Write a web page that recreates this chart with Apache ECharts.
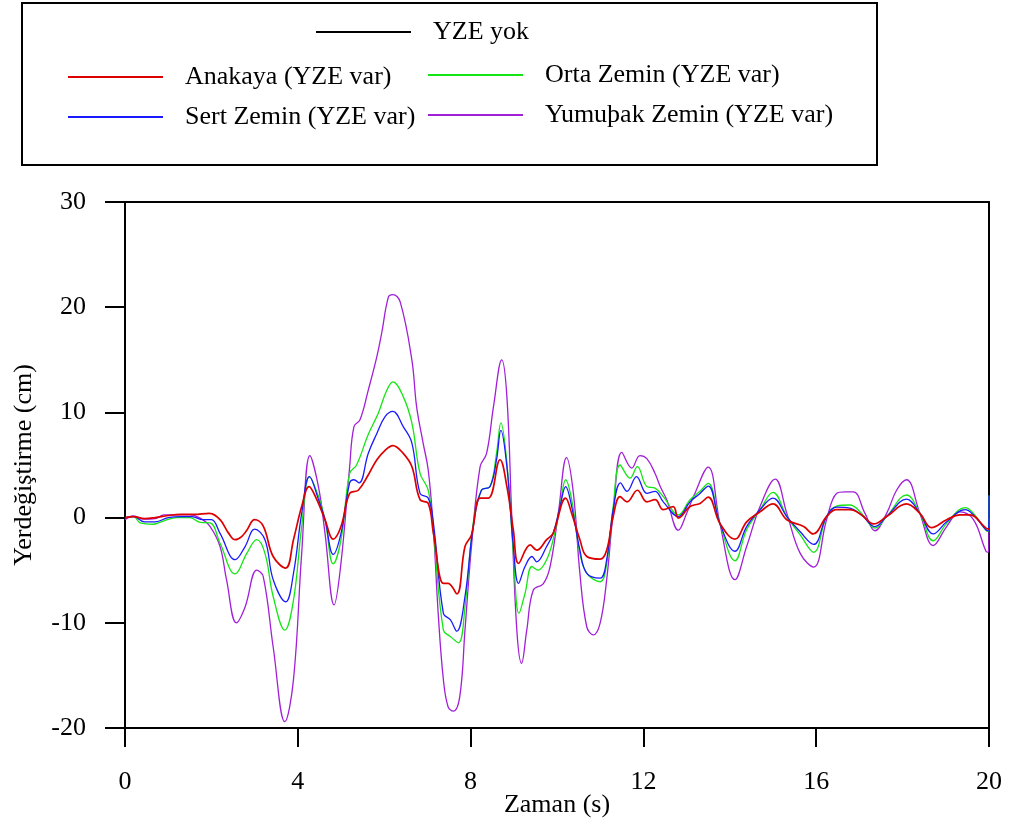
<!DOCTYPE html>
<html>
<head>
<meta charset="utf-8">
<script src="https://cdn.jsdelivr.net/npm/echarts@6/dist/echarts.min.js"></script>
<style>html,body{margin:0;padding:0;background:#fff}#c{width:1010px;height:835px}</style>
</head>
<body>
<div id="c"></div>
<script>
const xTicks = [0, 4, 8, 12, 16, 20];
const yTicks = [-20, -10, 0, 10, 20, 30];
const seriesNames = ["YZE yok", "Anakaya (YZE var)", "Orta Zemin (YZE var)", "Sert Zemin (YZE var)", "Yumuþak Zemin (YZE var)"];
const xName = "Zaman (s)";
const yName = "Yerdeğiştirme (cm)";

// YZE yok: no visible curve in the reference
const tNone = [];
const vNone = [];

const tRed = [0,0.2,0.45,0.7,1.0,1.3,1.6,1.95,2.2,2.4,2.55,2.7,2.82,3.0,3.2,3.43,3.72,3.9,4.09,4.26,4.44,4.63,4.82,5.0,5.2,5.4,5.63,5.83,6.02,6.2,6.44,6.64,6.83,7.02,7.14,7.37,7.48,7.68,7.87,8.02,8.22,8.41,8.68,8.84,8.99,9.11,9.38,9.53,9.76,9.91,10.2,10.34,10.53,10.69,11.0,11.15,11.3,11.46,11.62,11.86,12.08,12.27,12.46,12.69,12.81,13.08,13.31,13.5,13.77,14.12,14.39,14.7,15.0,15.32,15.71,15.93,16.24,16.47,16.78,17.05,17.33,17.63,18.09,18.4,18.67,19.02,19.33,19.56,19.93,20];
const vRed = [0,0.1,-0.1,0,0.2,0.3,0.3,0.4,-0.2,-1.5,-2.1,-1.8,-1.2,-0.2,-0.8,-3.7,-4.8,-2.1,1.05,2.95,1.7,-0.2,-2.05,-0.85,2.3,2.6,4.05,5.5,6.4,6.85,6.1,4.85,1.7,1.35,-1.5,-6.25,-6.25,-7.25,-2.75,-1.65,1.85,1.85,5.5,2.95,-1.2,-4.35,-2.6,-3.1,-2.1,-1.5,1.85,0.4,-2.1,-3.7,-3.95,-3.1,0.1,2.0,1.5,2.6,1.5,1.7,0.75,1.05,-0.05,1.05,1.35,1.95,-0.55,-2.05,-0.4,0.55,1.3,-0.2,-0.85,-1.55,0.1,0.75,0.75,0.25,-0.6,0.1,1.3,0.4,-0.95,-0.2,0.25,0.25,-1.0,-1.1];

const tGreen = [0,0.2,0.35,0.65,0.9,1.2,1.5,1.74,1.97,2.2,2.55,2.82,3.05,3.24,3.43,3.7,3.9,4.09,4.27,4.48,4.63,4.82,5.0,5.2,5.36,5.63,5.86,6.06,6.2,6.44,6.64,6.83,7.02,7.14,7.37,7.53,7.72,7.87,8.06,8.25,8.45,8.6,8.7,8.84,8.99,9.12,9.26,9.42,9.56,9.76,9.91,10.07,10.2,10.34,10.53,10.69,11.0,11.15,11.3,11.46,11.69,11.86,12.08,12.27,12.46,12.81,13.08,13.31,13.5,13.77,14.12,14.39,14.7,15.0,15.32,15.63,15.94,16.24,16.47,16.78,17.05,17.36,17.63,18.09,18.4,18.71,19.02,19.45,19.64,19.93,19.99,20];
const vGreen = [0,0.1,-0.5,-0.63,-0.3,0,0,-0.45,-0.5,-2.44,-5.35,-3.4,-2.1,-3.4,-7.5,-10.7,-7.85,-0.85,3.9,2.0,-0.2,-4.4,-2.1,4.2,5.0,7.9,9.9,12.1,12.9,11.5,9.0,4.2,2.6,-1.5,-10.7,-11.3,-11.9,-8.5,-0.55,2.6,2.95,6.1,9.0,5.2,-3.4,-9.1,-7.2,-4.65,-5.0,-4.0,-2.1,1.05,3.6,1.7,-3.4,-5.3,-6.1,-4.35,1.05,5.0,3.75,4.85,2.95,2.8,2.0,0.25,1.7,2.5,3.25,-0.55,-4.1,-1.15,0.75,2.4,0.1,-1.65,-3.3,0.1,1.1,1.2,0.4,-1.0,0.1,2.15,0.4,-2.2,-0.55,0.95,0.4,-1.2,-1.3,2.1];

const tBlue = [0,0.2,0.45,0.7,1.0,1.3,1.55,1.8,2.0,2.2,2.55,2.78,3.0,3.24,3.43,3.72,3.9,4.09,4.27,4.48,4.63,4.82,5.0,5.2,5.3,5.42,5.63,5.83,6.02,6.2,6.44,6.64,6.83,7.02,7.14,7.37,7.53,7.68,7.87,8.06,8.25,8.45,8.6,8.7,8.84,8.99,9.11,9.26,9.42,9.53,9.76,9.91,10.07,10.2,10.34,10.53,10.69,11.0,11.15,11.3,11.47,11.62,11.84,12.08,12.27,12.46,12.81,13.08,13.31,13.5,13.77,14.12,14.39,14.7,15.0,15.32,15.63,15.94,16.24,16.47,16.78,17.05,17.36,17.63,18.09,18.4,18.71,19.02,19.45,19.64,19.93,19.99,20];
const vBlue = [0,0.1,-0.4,-0.4,0,0.1,0.1,-0.2,-0.2,-1.5,-4.0,-2.75,-1.1,-2.1,-5.9,-8.0,-5.3,0.4,3.9,1.7,-0.2,-3.5,-1.5,3.3,3.6,3.3,6.1,8.0,9.6,10.1,8.65,7.1,2.3,1.85,-0.55,-9.1,-9.7,-10.8,-7.5,-0.85,2.6,2.95,5.5,8.3,4.85,-2.75,-6.25,-4.65,-3.7,-4.2,-2.75,-1.5,1.05,2.95,1.05,-3.1,-5.3,-5.75,-4.0,0.75,3.3,2.5,3.9,2.3,2.5,1.5,0.1,1.5,2.3,3.0,-0.55,-3.2,-0.85,0.75,1.85,0.1,-1.35,-2.55,0.1,1.0,0.9,0.25,-0.85,0.1,1.75,0.4,-1.55,-0.4,0.75,0.25,-1.15,-1.25,2.1];

const tPurple = [0,0.19,0.45,0.7,0.9,1.2,1.5,1.74,1.97,2.2,2.35,2.58,2.78,3.05,3.2,3.43,3.7,3.9,4.09,4.28,4.48,4.63,4.84,5.0,5.2,5.3,5.44,5.63,5.83,5.94,6.1,6.2,6.37,6.64,6.75,6.9,7.02,7.14,7.25,7.37,7.48,7.6,7.75,7.87,8.02,8.22,8.37,8.53,8.72,8.84,8.95,9.07,9.18,9.3,9.45,9.68,9.84,10.03,10.22,10.38,10.53,10.69,10.84,11.0,11.15,11.3,11.5,11.73,11.92,12.08,12.27,12.39,12.54,12.81,13.0,13.16,13.5,13.77,14.12,14.39,14.7,15.05,15.32,15.63,15.94,16.24,16.47,16.67,16.86,17.13,17.36,17.63,17.86,18.09,18.4,18.71,19.02,19.33,19.64,19.93,19.99,20];
const vPurple = [-0.2,0.15,-0.15,-0.1,0.25,0.25,0.25,-0.05,-0.85,-2.75,-5.9,-10.0,-8.5,-5.0,-5.6,-12.3,-19.4,-15.4,-3.4,5.9,2.9,-1.5,-8.3,-4.3,4.8,8.65,9.3,12.1,15.3,17.5,21.0,21.2,20.5,15.0,10.55,7.1,4.5,-1.2,-9.1,-15.4,-18.0,-18.4,-17.0,-10.7,-2.75,4.85,6.1,10.55,15.0,11.5,0.4,-10.7,-13.85,-10.7,-6.9,-6.3,-4.65,0.4,5.7,2.3,-5.3,-10.4,-11.15,-10.0,-5.9,0.4,6.2,4.7,5.9,5.6,4.2,2.95,1.7,-1.2,0.4,2.0,4.8,-0.55,-5.9,-2.75,1.05,3.65,0.4,-3.4,-4.7,-0.2,2.3,2.45,2.45,0.4,-1.25,0.4,2.6,3.6,0.4,-2.65,-0.85,0.55,-0.2,-3.2,-3.3,-0.1];

const colors = {none: "#000000", red: "#dc0000", green: "#14e614", blue: "#1a1aff", purple: "#a21fd8"};
const FONT = "Liberation Serif";

function zip(t, v) { return t.map((x, i) => [x, v[i]]); }

const chart = echarts.init(document.getElementById('c'), null, {renderer: 'canvas'});

function mkSeries(name, t, v, color, width) {
  return {
    name: name, type: 'line', data: zip(t, v), showSymbol: false, symbol: 'none',
    smooth: 0.4,
    lineStyle: {color: color, width: width}, itemStyle: {color: color},
    animation: false, z: 3
  };
}

function mkLegend(name, left, top) {
  return {
    data: [name], left: left, top: top, orient: 'horizontal', selectedMode: false,
    icon: 'rect', itemWidth: 95, itemHeight: 2, itemGap: 0,
    textStyle: {fontFamily: FONT, fontSize: 26, color: '#000', padding: [0, 0, 8, 17]}
  };
}

const axisLineStyle = {show: true, onZero: false, lineStyle: {color: '#000', width: 2}};

chart.setOption({
  animation: false,
  backgroundColor: '#fff',
  grid: {left: 125, top: 202, right: 21, bottom: 107, containLabel: false},
  graphic: [{
    type: 'rect', shape: {x: 22, y: 3, width: 855, height: 162},
    style: {fill: 'none', stroke: '#000', lineWidth: 2}, z: -1
  }],
  legend: [
    mkLegend(seriesNames[0], 311, 14),
    mkLegend(seriesNames[1], 63, 59),
    mkLegend(seriesNames[2], 423, 57),
    mkLegend(seriesNames[3], 63, 99),
    mkLegend(seriesNames[4], 423, 97)
  ],
  xAxis: [{
    type: 'value', min: xTicks[0], max: xTicks[xTicks.length - 1], interval: 4,
    name: xName, nameLocation: 'middle', nameGap: 64, nameMoveOverlap: false,
    nameTextStyle: {fontFamily: FONT, fontSize: 26, color: '#000'},
    axisLine: {show: true, onZero: false, lineStyle: {color: '#000', width: 2}},
    axisTick: {show: true, length: 19, lineStyle: {color: '#000', width: 2}},
    axisLabel: {fontFamily: FONT, fontSize: 26, color: '#000', margin: 41},
    splitLine: {show: false}
  }, {
    type: 'value', position: 'top', min: 0, max: 20,
    axisLine: axisLineStyle, axisTick: {show: false}, axisLabel: {show: false}, splitLine: {show: false}
  }],
  yAxis: [{
    type: 'value', min: yTicks[0], max: yTicks[yTicks.length - 1], interval: 10,
    name: yName, nameLocation: 'middle', nameGap: 88, nameRotate: 90, nameMoveOverlap: false,
    nameTextStyle: {fontFamily: FONT, fontSize: 26, color: '#000'},
    axisLine: {show: true, onZero: false, lineStyle: {color: '#000', width: 2}},
    axisTick: {show: true, length: 20, lineStyle: {color: '#000', width: 2}},
    axisLabel: {fontFamily: FONT, fontSize: 26, color: '#000', margin: 39},
    splitLine: {show: false}
  }, {
    type: 'value', position: 'right', min: -20, max: 30,
    axisLine: axisLineStyle, axisTick: {show: false}, axisLabel: {show: false}, splitLine: {show: false}
  }],
  series: [
    mkSeries(seriesNames[0], tNone, vNone, colors.none, 1.5),
    mkSeries(seriesNames[4], tPurple, vPurple, colors.purple, 1.3),
    mkSeries(seriesNames[2], tGreen, vGreen, colors.green, 1.3),
    mkSeries(seriesNames[3], tBlue, vBlue, colors.blue, 1.3),
    mkSeries(seriesNames[1], tRed, vRed, colors.red, 1.7)
  ]
});
</script>
</body>
</html>
